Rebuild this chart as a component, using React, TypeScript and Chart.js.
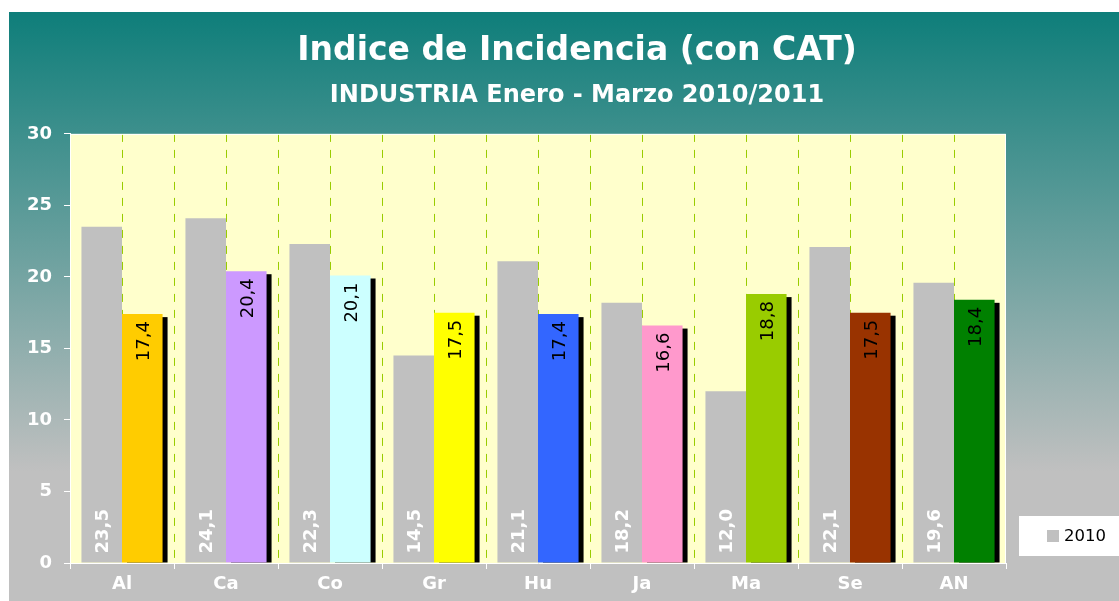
import React, { useEffect, useRef } from 'react';
import { Chart, registerables } from 'chart.js';

Chart.register(...registerables);

const categories = ['Al', 'Ca', 'Co', 'Gr', 'Hu', 'Ja', 'Ma', 'Se', 'AN'];
const values2010 = [23.5, 24.1, 22.3, 14.5, 21.1, 18.2, 12.0, 22.1, 19.6];
const values2011 = [17.4, 20.4, 20.1, 17.5, 17.4, 16.6, 18.8, 17.5, 18.4];
const colors2011 = ['#FFCC00', '#CC99FF', '#CCFFFF', '#FFFF00', '#3366FF', '#FF99CC', '#99CC00', '#993300', '#008000'];
const yTicks = [0, 5, 10, 15, 20, 25, 30];
const titleText = 'Indice de Incidencia (con CAT)';
const subtitleText = 'INDUSTRIA Enero - Marzo 2010/2011';

const FONT = "'DejaVu Sans', Verdana, sans-serif";
const fmt = (v: number) => v.toFixed(1).replace('.', ',');

const decorPlugin = {
  id: 'decor',
  beforeDraw(chart: any) {
    const { ctx, width, height, chartArea } = chart;
    ctx.save();
    const g = ctx.createLinearGradient(0, 0, 0, height);
    g.addColorStop(0, '#0E7E7A');
    g.addColorStop(0.78, '#C0C0C0');
    g.addColorStop(1, '#C0C0C0');
    ctx.fillStyle = g;
    ctx.fillRect(0, 0, width, height);
    ctx.fillStyle = '#FFFFCC';
    ctx.fillRect(chartArea.left, chartArea.top, chartArea.right - chartArea.left, chartArea.bottom - chartArea.top);
    ctx.restore();
  },
  beforeDatasetsDraw(chart: any) {
    const { ctx, chartArea } = chart;
    const xs = chart.scales.x;
    const n = chart.data.labels.length;
    const half = (xs.getPixelForValue(1) - xs.getPixelForValue(0)) / 2;
    ctx.save();
    ctx.strokeStyle = '#99CC00';
    ctx.lineWidth = 1;
    ctx.setLineDash([8, 8]);
    for (let i = 0; i < n; i++) {
      const c = xs.getPixelForValue(i);
      const lines = i === 0 ? [c] : [c - half, c];
      lines.forEach((px) => {
        const xp = Math.round(px) + 0.5;
        ctx.beginPath();
        ctx.moveTo(xp, chartArea.top);
        ctx.lineTo(xp, chartArea.bottom);
        ctx.stroke();
      });
    }
    ctx.setLineDash([]);
    ctx.strokeStyle = '#FFFFFF';
    ctx.beginPath();
    ctx.moveTo(chartArea.left, chartArea.top + 0.5);
    ctx.lineTo(chartArea.right - 0.5, chartArea.top + 0.5);
    ctx.lineTo(chartArea.right - 0.5, chartArea.bottom);
    ctx.stroke();
    ctx.restore();
  },
  beforeDatasetDraw(chart: any, args: any) {
    if (args.index !== 1) return;
    const { ctx, chartArea } = chart;
    const meta = chart.getDatasetMeta(1);
    ctx.save();
    ctx.beginPath();
    ctx.rect(chartArea.left, chartArea.top, chartArea.right - chartArea.left, chartArea.bottom - chartArea.top);
    ctx.clip();
    ctx.fillStyle = '#000000';
    meta.data.forEach((bar: any) => {
      const { x, y, base, width } = bar.getProps(['x', 'y', 'base', 'width'], true);
      ctx.fillRect(x - width / 2 + 5, y + 3, width, base - y - 3);
    });
    ctx.restore();
  },
  afterDatasetsDraw(chart: any) {
    const { ctx, chartArea } = chart;
    ctx.save();
    // value labels
    chart.data.datasets.forEach((ds: any, di: number) => {
      const meta = chart.getDatasetMeta(di);
      meta.data.forEach((bar: any, i: number) => {
        const { x, y, base } = bar.getProps(['x', 'y', 'base'], true);
        ctx.save();
        if (di === 0) {
          ctx.translate(x + 2, base - 9);
          ctx.rotate(-Math.PI / 2);
          ctx.font = `bold 18px ${FONT}`;
          ctx.fillStyle = '#FFFFFF';
          ctx.textAlign = 'left';
        } else {
          ctx.translate(x + 2, y + 7);
          ctx.rotate(-Math.PI / 2);
          ctx.font = `18px ${FONT}`;
          ctx.fillStyle = '#000000';
          ctx.textAlign = 'right';
        }
        ctx.textBaseline = 'middle';
        ctx.fillText(fmt(ds.data[i]), 0, 0);
        ctx.restore();
      });
    });
    // legend (2010 only)
    const ds0 = chart.data.datasets[0];
    const bx = chartArea.right + 13;
    const bh = 40;
    const by = chartArea.bottom - 7 - bh;
    ctx.fillStyle = '#FFFFFF';
    ctx.fillRect(bx, by, chart.width - bx, bh);
    ctx.fillStyle = ds0.backgroundColor;
    ctx.fillRect(bx + 28, by + bh / 2 - 6, 12, 12);
    ctx.fillStyle = '#000000';
    ctx.font = `16.5px ${FONT}`;
    ctx.textAlign = 'left';
    ctx.textBaseline = 'middle';
    ctx.fillText(ds0.label, bx + 45, by + bh / 2 + 1);
    ctx.restore();
  },
};

export default function App() {
  const canvasRef = useRef<HTMLCanvasElement | null>(null);

  useEffect(() => {
    document.body.style.overflow = 'hidden';
    const canvas = canvasRef.current;
    if (!canvas) return;
    const chart = new Chart(canvas, {
      type: 'bar',
      data: {
        labels: categories,
        datasets: [
          {
            label: '2010',
            data: values2010,
            backgroundColor: '#C0C0C0',
            categoryPercentage: 0.78,
            barPercentage: 1,
            yAxisID: 'y',
          },
          {
            label: '2011',
            data: values2011,
            backgroundColor: colors2011,
            categoryPercentage: 0.78,
            barPercentage: 1,
            yAxisID: 'y',
          },
        ],
      },
      options: {
        responsive: false,
        animation: false,
        layout: { padding: 0 },
        plugins: {
          legend: { display: false },
          tooltip: { enabled: false },
          title: {
            display: true,
            text: titleText,
            color: '#FFFFFF',
            font: { family: FONT, size: 33, weight: 'bold' },
            padding: { top: 20, bottom: 9.5 },
          },
          subtitle: {
            display: true,
            text: subtitleText,
            color: '#FFFFFF',
            font: { family: FONT, size: 24, weight: 'bold' },
            padding: { top: 0, bottom: 24 },
          },
        },
        scales: {
          x: {
            grid: {
              display: true,
              drawOnChartArea: false,
              drawTicks: true,
              tickLength: 6,
              tickColor: '#FFFFFF',
              offset: true,
            },
            border: { display: true, color: '#FFFFFF', width: 1 },
            ticks: {
              color: '#FFFFFF',
              font: { family: FONT, size: 18, weight: 'bold' },
              padding: 5,
              maxRotation: 0,
            },
            afterFit: (s: any) => { s.height = 38; },
          },
          y: {
            min: 0,
            max: 30,
            afterBuildTicks: (s: any) => { s.ticks = yTicks.map((v) => ({ value: v })); },
            grid: {
              display: true,
              drawOnChartArea: false,
              drawTicks: true,
              tickLength: 6,
              tickColor: '#FFFFFF',
            },
            border: { display: true, color: '#FFFFFF', width: 1 },
            ticks: {
              color: '#FFFFFF',
              font: { family: FONT, size: 18, weight: 'bold' },
              padding: 12,
            },
            afterFit: (s: any) => { s.width = 61; },
          },
          yRight: {
            type: 'linear',
            position: 'right',
            display: true,
            grid: { display: false, drawTicks: false },
            border: { display: false },
            ticks: { display: false },
            afterFit: (s: any) => { s.width = 139; },
          },
        },
      } as any,
      plugins: [decorPlugin],
    });
    return () => chart.destroy();
  }, []);

  return (
    <div style={{ position: 'fixed', left: 9, top: 12, width: 1136, height: 589 }}>
      <canvas ref={canvasRef} width={1136} height={589} style={{ display: 'block', width: 1136, height: 589 }} />
    </div>
  );
}
